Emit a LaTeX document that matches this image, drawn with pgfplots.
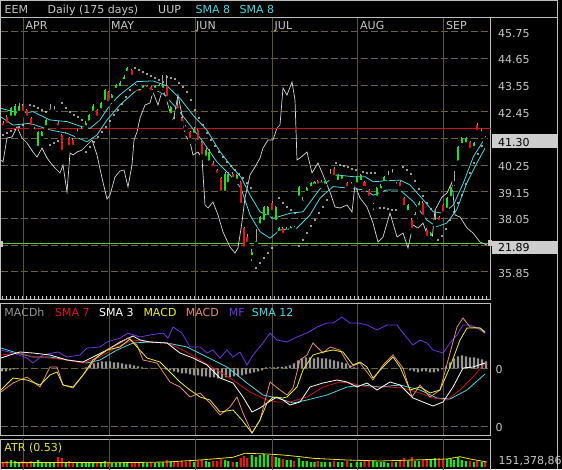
\documentclass[border=0pt]{standalone}
\usepackage{pgfplots}
\usepackage{pgfplotstable}
\pgfplotsset{compat=1.18}
\usepackage{fontspec}
\setmainfont{DejaVu Sans}
\definecolor{lbl}{RGB}{200,200,200}
\definecolor{frm}{RGB}{190,190,190}
\definecolor{gridc}{RGB}{105,100,62}
\definecolor{vgrid}{RGB}{88,86,58}
\definecolor{cyn}{RGB}{80,215,225}
\definecolor{upc}{RGB}{30,225,30}
\definecolor{dnc}{RGB}{225,25,25}
\definecolor{wick}{RGB}{165,165,165}
\definecolor{uup}{RGB}{215,215,215}
\definecolor{redl}{RGB}{200,20,20}
\definecolor{grnl}{RGB}{80,200,60}
\definecolor{mfc}{RGB}{110,55,225}
\definecolor{ylw}{RGB}{235,235,70}
\definecolor{salm}{RGB}{230,140,125}
\definecolor{hist}{RGB}{150,150,150}
\definecolor{atrc}{RGB}{230,230,50}
\definecolor{boxc}{RGB}{205,205,205}
\newcommand{\fs}{\fontsize{11}{13}\selectfont}

% up candles: x open high low close volume
\pgfplotstableread{
x o h l c v
11 42.20 42.65 42.15 42.60 7
15 42.20 42.75 42.10 42.70 6
19 42.40 42.80 42.35 42.70 5
34.3 41.65 41.80 41.50 41.70 4
38.3 40.95 41.65 40.90 41.60 7
41.7 41.36 41.65 41.30 41.60 5
46 41.80 42.15 41.75 42.10 5
50 42.45 42.75 42.30 42.55 4
54 42.45 42.70 42.35 42.50 4
65.7 41.45 41.60 41.35 41.50 4
77.3 41.55 41.75 41.45 41.60 4
81.7 41.65 41.80 41.55 41.70 4
85.7 41.80 42.05 41.75 42.00 5
89.3 42.00 42.35 41.95 42.30 5
93.3 42.40 42.75 42.35 42.70 4
101 42.50 42.85 42.45 42.80 5
105 42.85 43.40 42.80 43.35 6
111.7 42.93 43.20 42.90 43.14 4
116 43.35 43.60 43.30 43.55 4
120 43.42 43.70 43.38 43.63 5
124 43.70 43.95 43.65 43.90 5
127.3 44.05 44.30 44.00 44.25 4
143.3 43.35 43.55 43.30 43.50 4
147.3 43.40 43.55 43.35 43.50 4
155 43.35 43.55 43.30 43.50 4
159.3 43.42 43.60 43.38 43.55 4
162.7 43.35 43.95 43.30 43.55 5
170.7 42.30 42.70 42.20 42.65 6
194 41.50 41.80 41.45 41.75 5
206 40.55 40.95 40.50 40.87 6
209.3 40.35 40.90 40.30 40.80 5
225 39.10 39.95 39.05 39.90 7
228.3 39.46 39.95 39.40 39.87 6
236.7 39.60 39.90 39.55 39.85 5
251.7 36.45 36.80 36.20 36.65 12
256 37.00 37.60 36.95 37.10 10
260 37.75 38.15 37.70 38.10 12
264 37.90 38.55 37.85 38.50 13
267.7 38.10 38.55 38.05 38.50 12
275.7 37.90 38.55 37.85 38.50 10
279.3 37.45 37.70 37.40 37.65 9
286.7 37.50 37.70 37.40 37.55 7
290.7 37.55 37.75 37.50 37.70 7
299 38.90 39.40 38.85 39.35 9
302.7 38.70 38.95 38.60 38.80 6
306.7 39.10 39.35 39.05 39.30 6
311 39.30 39.55 39.25 39.50 5
314.5 39.40 39.60 39.35 39.55 5
321.5 39.45 39.65 39.40 39.55 5
325 39.40 39.65 39.35 39.60 5
330 39.80 40.10 39.70 39.85 5
338.3 39.55 39.90 39.50 39.85 5
342.3 39.60 39.85 39.55 39.80 5
351 39.40 39.55 39.30 39.45 4
356.7 39.45 39.80 39.40 39.75 5
360.7 39.55 39.90 39.50 39.85 5
373.3 38.55 38.70 38.30 38.60 6
376.7 38.90 39.35 38.85 39.30 5
380.7 39.20 39.45 39.15 39.40 5
384.3 39.50 39.80 39.45 39.75 5
388.3 39.75 40.00 39.70 39.80 4
396 39.40 39.55 39.35 39.45 5
408.3 38.30 38.65 38.25 38.60 6
415 38.10 38.30 38.05 38.25 6
419 38.50 38.75 38.45 38.70 6
430.7 37.24 37.50 37.20 37.45 7
435 37.90 38.40 37.80 38.00 9
447.3 38.40 38.95 38.35 38.90 8
450.7 38.88 39.40 38.85 39.33 8
454 39.50 40.00 39.30 39.55 7
458.3 40.35 41.05 40.30 41.00 10
461.7 41.07 41.40 41.00 41.36 7
466 41.10 41.40 41.05 41.36 6
474 40.95 41.20 40.90 41.15 5
481.7 41.55 41.75 41.45 41.60 5
}\upC

% down candles
\pgfplotstableread{
x o h l c v
3.3 41.98 42.05 41.72 41.80 5
6.7 42.23 42.30 41.85 41.90 6
22.7 42.70 42.75 42.30 42.40 6
26.7 42.50 42.55 42.15 42.20 5
31 42.20 42.25 41.75 41.80 6
58.3 42.00 42.05 41.75 41.80 10
61.7 41.48 41.55 40.75 40.79 9
69 41.36 41.40 40.95 40.99 6
72.7 41.30 41.35 40.95 41.00 5
97.3 42.50 42.55 42.15 42.20 5
108.3 43.26 43.30 42.75 42.80 5
131.7 44.17 44.20 43.85 43.88 5
135 43.50 43.60 43.40 43.45 4
139 43.35 43.40 43.20 43.22 5
151 43.45 43.50 43.20 43.25 5
166.7 43.50 43.95 42.95 43.00 7
174 42.10 42.30 41.95 42.05 5
177.7 42.70 43.00 42.45 42.50 5
181.7 42.20 42.25 41.90 41.98 6
185.7 41.80 41.90 41.55 41.75 5
190 41.60 41.65 41.20 41.28 6
197.7 41.70 41.75 41.15 41.20 6
201.7 41.20 41.25 40.55 40.60 7
213.3 40.33 40.40 40.05 40.12 6
217.3 40.05 40.10 39.80 39.85 6
221 39.70 39.75 39.05 39.10 8
232.7 39.87 39.95 39.60 39.66 5
240.7 39.55 39.60 38.55 38.60 9
244 37.65 37.70 36.75 36.80 11
247.3 37.30 37.40 36.90 37.00 9
272.3 38.70 38.75 38.25 38.30 11
282.7 37.65 37.70 37.30 37.36 8
294 37.70 37.75 37.55 37.60 6
317.7 39.60 39.65 39.35 39.40 6
334 40.10 40.15 39.70 39.75 6
347.3 39.50 39.55 39.25 39.30 6
364.5 39.55 39.60 39.25 39.30 6
369 39.20 39.25 38.85 38.90 7
392.3 39.90 40.10 39.80 39.85 5
400 39.55 39.60 39.25 39.30 6
404 38.90 38.95 38.45 38.50 9
411.7 37.98 38.05 37.50 37.57 10
422.7 38.70 38.75 38.05 38.10 7
426.7 37.57 37.65 37.20 37.24 8
439 38.10 38.15 37.85 37.90 9
443.3 38.60 38.65 38.20 38.25 7
470 41.20 41.25 40.85 40.87 6
477.3 41.90 42.00 41.55 41.60 6
485 41.40 41.45 41.25 41.30 5
}\dnC

\begin{document}
\begin{tikzpicture}[x=1pt,y=1pt]
\fill[black] (0,0) rectangle (562,469);
\useasboundingbox (0,0) rectangle (562,469);

% ---------- main panel: overlay in screen units (grid, UUP, SAR)
\begin{axis}[at={(0.7pt,170pt)},anchor=south west,scale only axis,
  width=489.8pt,height=281.5pt,xmin=0.7,xmax=490.5,ymin=17.5,ymax=299,
  y dir=reverse,hide axis,clip=true]
\pgfplotsinvokeforeach{31.7,58.3,85,111.7,138.3,165,191.7,218.3,245,271.7}{
  \draw[gridc,dash pattern=on 7pt off 3pt,line width=0.6pt] (axis cs:0.7,#1) -- (axis cs:490.5,#1);}
\pgfplotsinvokeforeach{23.3,109,195,272.7,357.3,443.3}{
  \draw[vgrid,line width=0.7pt] (axis cs:#1,17.5) -- (axis cs:#1,299);}
\addplot[grnl,line width=1pt] coordinates {(0.7,243.3) (490.5,243.3)};
\addplot[uup,line width=0.7pt] coordinates {
(1,160)(3,162)(7,138)(12,137)(17,127)(22,138)(27,143)(33,152)(37,157)(42,148)(47,158)(50,162)(55,168)(60,173)(63,165)(67,192)(70,153)(73,155)(77,152)(82,150)(87,145)(92,140)(97,155)(102,178)(107,199)(110,195)(115,177)(120,171)(124,170)(128,187)(132,165)(134,140)(137,132)(140,118)(145,105)(150,103)(153,92)(158,105)(163,88)(168,105)(173,122)(178,95)(182,115)(185,135)(190,142)(193,155)(198,152)(202,158)(205,205)(208,208)(213,202)(218,215)(223,232)(230,247)(235,253)(238,248)(242,222)(245,198)(250,175)(255,167)(260,158)(263,148)(268,140)(273,140)(277,128)(280,125)(283,88)(287,95)(292,82)(295,100)(297,160)(300,158)(307,152)(312,173)(318,163)(323,175)(330,192)(335,207)(340,208)(347,205)(352,212)(355,185)(360,198)(367,207)(373,223)(378,242)(383,237)(390,213)(397,237)(403,233)(408,248)(413,225)(418,228)(423,223)(428,237)(432,240)(435,210)(442,197)(447,193)(452,182)(455,215)(460,217)(467,228)(473,233)(480,242)(487,245)};
\addplot[only marks,mark=*,mark size=0.55pt,white] coordinates {
(3,135)(7,133)(11,131)(15,129)(19,127)(23,125)
(30,105)(34,106)(38,108)(42,110)(46,112)
(50,145)(54,143)(58,141)
(62,103)(66,108)(70,112)(74,115)(78,117)(82,120)
(86,152)(90,147)(94,142)(98,137)(102,132)(106,127)(110,121)(114,115)(118,110)(122,104)(126,97)(130,90)
(135,68)(139,70)(143,72)(147,74)(151,76)(155,78)(159,80)(163,82)
(167,77)(171,78)(175,79)(179,83)(183,87)(187,92)(191,100)(195,110)(199,118)(203,125)(207,133)(211,140)(215,146)(219,152)(223,157)(227,162)(231,166)(235,170)(239,174)(243,178)(247,183)(251,188)
(256,268)(260,263)(264,258)(268,253)(272,248)
(279,198)(283,203)(287,207)(291,210)(295,213)
(299,246)(303,240)(307,233)(311,226)(315,220)(319,213)(323,207)(327,200)
(336,163)(340,165)(344,166)(348,167)(352,169)(356,170)(363,172)(367,173)(371,173)(375,173)
(380,208)(384,208)(388,209)(392,210)(396,210)
(403,167)(407,170)(411,174)(415,181)(419,189)(423,196)(427,203)(431,209)
(438,240)(442,236)(446,229)(450,220)(454,212)(458,203)(462,195)(466,184)(470,173)(474,163)(478,154)(482,146)};
\end{axis}

% ---------- main panel: price axis (candles)
\begin{axis}[at={(0.7pt,170pt)},anchor=south west,scale only axis,
  width=489.8pt,height=281.5pt,xmin=0.7,xmax=490.5,ymin=34.723,ymax=46.336,
  axis line style={draw=frm,line width=0.8pt},
  ytick=\empty,xtick={2,6,...,490},xticklabels={},xtick pos=lower,
  tick align=inside,major tick length=3pt,tick style={draw=lbl,line width=0.5pt},
  clip=true]
\addplot[redl,line width=1pt] coordinates {(0.7,41.77) (490.5,41.77)};
\addplot[cyn,line width=0.8pt] coordinates {
(0.7,42.59)(20,42.38)(33,42.45)(50,42.11)(67,42.04)(82,41.83)(90,41.76)(100,42.11)(110,42.73)(120,43.15)(136.7,43.69)(153,43.72)(166.7,43.52)(180,43.0)(193,42.31)(206.7,41.7)(220,40.8)(233,40.11)(241,39.75)(250,39.01)(260,38.32)(273.3,38.05)(290,38.26)(303,38.32)(313,38.88)(323,39.43)(336.7,39.84)(353,39.77)(365,39.77)(373.3,39.56)(386.7,39.6)(400,39.63)(410,39.43)(423.3,38.81)(433.3,38.32)(443.3,38.26)(453.3,38.6)(463.3,39.5)(473.3,40.59)(485,41.35)};
\addplot[cyn,line width=0.8pt] coordinates {
(0.7,42.24)(13,41.9)(30,41.97)(50,41.7)(67,41.56)(87,41.21)(97,41.49)(107,42.11)(120,42.73)(136.7,43.34)(150,43.41)(163,43.21)(176.7,42.59)(190,41.9)(203,41.21)(216.7,40.39)(230,39.84)(241,39.3)(250,38.19)(260,37.5)(270,37.23)(280,37.57)(296.7,37.64)(310,38.19)(320,38.88)(333,39.36)(350,39.29)(365,39.22)(373.3,39.01)(386.7,39.22)(400,39.22)(413.3,38.74)(426.7,37.98)(436.7,37.71)(446.7,37.85)(456.7,38.4)(466.7,39.5)(476.7,40.32)(485,40.94)};
% wicks
\addplot[only marks,mark=none,error bars/.cd,y dir=plus,y explicit,error mark=none,
  error bar style={draw=wick,solid,line width=0.7pt}]
  table[x=x,y=l,y error expr=\thisrow{h}-\thisrow{l}] {\upC};
\addplot[only marks,mark=none,error bars/.cd,y dir=plus,y explicit,error mark=none,
  error bar style={draw=wick,solid,line width=0.7pt}]
  table[x=x,y=l,y error expr=\thisrow{h}-\thisrow{l}] {\dnC};
% bodies
\addplot[only marks,mark=none,error bars/.cd,y dir=plus,y explicit,error mark=none,
  error bar style={draw=upc,solid,line width=2.2pt}]
  table[x=x,y=o,y error expr=\thisrow{c}-\thisrow{o}] {\upC};
\addplot[only marks,mark=none,error bars/.cd,y dir=plus,y explicit,error mark=none,
  error bar style={draw=dnc,solid,line width=2.2pt}]
  table[x=x,y=c,y error expr=\thisrow{o}-\thisrow{c}] {\dnC};
\end{axis}

% ---------- MACD panel: histogram + grid
\begin{axis}[at={(0.7pt,34pt)},anchor=south west,scale only axis,
  width=489.8pt,height=131.7pt,xmin=0.7,xmax=490.5,ymin=-66.7,ymax=65,
  hide axis,clip=true]
\draw[gridc,dash pattern=on 7pt off 3pt,line width=0.6pt] (axis cs:0.7,0) -- (axis cs:490.5,0);
\draw[gridc,dash pattern=on 7pt off 3pt,line width=0.6pt] (axis cs:0.7,-58.4) -- (axis cs:490.5,-58.4);
\pgfplotsinvokeforeach{23.3,109,195,272.7,357.3,443.3}{
  \draw[vgrid,line width=0.7pt] (axis cs:#1,-66.7) -- (axis cs:#1,65);}
\addplot[ybar,bar width=2.2pt,bar shift=0pt,fill=hist,draw=none] coordinates {
(2,-3)(6,-3)(10,-2)(14,-1)(18,-0.5)(86,1)(90,3)(94,5)(98,6)(102,7)(106,7)(110,7)(114,6)(118,6)(122,5)(126,4)(130,4)(134,3)(138,2)(142,1)(146,0.5)(150,0.5)(166,-1)(170,-2)(174,-3)(178,-4)(182,-5)(186,-5)(190,-6)(194,-7)(198,-7)(202,-8)(206,-8)(210,-9)(214,-9)(218,-10)(222,-10)(226,-9)(230,-9)(234,-8)(238,-8)(242,-7)(246,-6)(250,-5)(254,-4)(258,-3)(262,-2)(266,1)(270,1)(274,1)(278,1.5)(282,1.5)(286,2)(290,3)(294,5)(298,8)(302,10)(306,11)(310,11)(314,10)(318,11)(322,10)(326,10)(330,9)(334,8)(338,7)(342,6)(346,5)(350,3)(354,1)(358,0.5)(410,-2)(414,-3)(418,-4)(422,-3)(426,-3)(430,-4)(434,-4)(438,-3)(442,-1)(446,2)(450,6)(454,10)(458,12)(462,13)(466,12)(470,11)(474,11)(478,10)(482,9)(486,7)};
\end{axis}

% ---------- MACD panel: lines
\begin{axis}[at={(0.7pt,34pt)},anchor=south west,scale only axis,
  width=489.8pt,height=131.7pt,xmin=0.7,xmax=490.5,ymin=303.3,ymax=435,y dir=reverse,
  axis line style={draw=frm,line width=0.8pt},ticks=none,clip=true]
\addplot[mfc,line width=0.8pt] coordinates {
(1,350)(13,353)(27,358)(33,363)(43,355)(53,353)(58,352)(67,357)(80,355)(87,348)(100,347)(107,342)(120,338)(128,333)(140,337)(150,335)(163,333)(168,338)(173,327)(182,333)(190,347)(200,347)(207,353)(213,350)(220,358)(227,350)(233,357)(240,352)(247,365)(253,355)(263,343)(270,333)(277,340)(287,342)(297,337)(307,333)(317,327)(327,323)(333,323)(342,317)(350,323)(358,323)(367,325)(377,330)(387,325)(397,325)(403,333)(413,345)(420,340)(427,343)(433,350)(443,353)(450,343)(457,335)(463,325)(470,325)(477,328)(485,333)};
\addplot[cyn,line width=0.8pt] coordinates {
(1,348)(17,353)(33,357)(50,357)(67,360)(87,363)(100,360)(117,350)(133,343)(150,342)(167,343)(187,347)(207,357)(227,367)(247,383)(263,395)(277,398)(293,403)(307,400)(327,395)(347,387)(363,385)(380,387)(400,385)(420,390)(437,398)(450,399)(467,390)(485,374)};
\addplot[dnc!90!black,line width=0.8pt] coordinates {
(1,355)(20,353)(33,357)(50,358)(67,360)(83,363)(100,357)(117,347)(133,340)(150,342)(167,343)(183,350)(200,360)(217,370)(233,380)(250,392)(267,400)(277,402)(290,402)(307,397)(323,387)(340,382)(350,383)(367,387)(387,387)(403,388)(420,393)(433,398)(447,400)(460,390)(473,377)(485,363)};
\addplot[white,line width=0.8pt] coordinates {
(1,358)(10,355)(20,352)(33,353)(50,355)(67,360)(83,362)(93,357)(107,350)(120,342)(133,336)(140,340)(150,342)(167,343)(180,353)(193,358)(207,365)(220,378)(233,383)(243,397)(252,412)(260,408)(267,403)(277,397)(283,400)(290,405)(300,402)(310,387)(323,383)(337,380)(347,382)(357,387)(367,383)(377,390)(390,382)(400,385)(413,398)(423,402)(433,406)(443,402)(453,387)(463,368)(473,367)(485,363)};
\addplot[salm,line width=0.8pt] coordinates {
(1,392)(13,383)(27,377)(40,387)(50,367)(57,367)(63,385)(73,388)(87,370)(97,357)(107,350)(120,343)(128,338)(137,345)(143,360)(157,363)(170,382)(180,387)(190,397)(200,393)(210,403)(220,415)(230,407)(237,397)(243,413)(252,433)(260,420)(270,382)(280,390)(287,395)(293,388)(300,360)(307,355)(313,343)(323,353)(330,347)(340,350)(350,367)(360,363)(373,380)(383,365)(393,355)(403,368)(412,397)(420,385)(430,397)(440,390)(450,353)(457,327)(463,318)(470,327)(480,328)(485,333)};
\addplot[ylw,line width=0.8pt] coordinates {
(1,390)(13,378)(27,380)(40,385)(50,375)(57,372)(63,385)(73,387)(83,375)(93,360)(107,350)(120,347)(130,339)(137,347)(147,358)(160,362)(170,372)(180,382)(190,390)(200,397)(210,400)(220,412)(233,410)(242,420)(252,433)(260,420)(267,403)(273,397)(283,398)(287,397)(297,387)(303,370)(313,355)(323,352)(333,350)(343,352)(353,365)(360,362)(367,367)(373,378)(383,367)(393,357)(400,367)(410,390)(420,387)(430,393)(440,390)(450,367)(460,340)(467,328)(473,328)(480,328)(485,332)};
\end{axis}

% ---------- ATR / volume panel
\begin{axis}[at={(0.7pt,-1pt)},anchor=south west,scale only axis,
  width=489.8pt,height=30.7pt,xmin=0.7,xmax=490.5,ymin=-3,ymax=27.7,
  axis line style={draw=frm,line width=0.8pt},ticks=none,clip=true]
\pgfplotsinvokeforeach{23.3,109,195,272.7,357.3,443.3}{
  \draw[vgrid,line width=0.7pt] (axis cs:#1,-3) -- (axis cs:#1,27.7);}
\addplot[ybar,bar width=2.2pt,bar shift=0pt,fill=upc,draw=none] table[x=x,y=v] {\upC};
\addplot[ybar,bar width=2.2pt,bar shift=0pt,fill=dnc,draw=none] table[x=x,y=v] {\dnC};
\addplot[atrc,line width=0.8pt] coordinates {
(1,4.3)(60,4.5)(120,4.3)(167,5)(200,7)(233,9.7)(245,13.7)(267,13)(283,12)(300,10.3)(313,8.7)(347,7)(380,6)(413,7)(447,8)(460,10.3)(470,8)(487,5)};
\end{axis}

% ---------- frames
\draw[frm,line width=0.8pt] (0.7,468.3) rectangle (557.5,451.5);
\draw[frm,line width=0.8pt] (557.5,451.5) -- (557.5,0);

% ---------- texts
\begin{scope}[every node/.style={inner sep=0pt,font=\fs,anchor=base west}]
\node[text=lbl] at (4.5,455.7) {EEM};
\node[text=lbl] at (47.5,455.7) {Daily (175 days)};
\node[text=lbl] at (158,455.7) {UUP};
\node[text=cyn] at (195.5,455.7) {SMA 8};
\node[text=cyn] at (239.5,455.7) {SMA 8};
\node[text=lbl] at (25.5,439) {APR};
\node[text=lbl] at (111,439) {MAY};
\node[text=lbl] at (196,439) {JUN};
\node[text=lbl] at (274.5,439) {JUL};
\node[text=lbl] at (360,439) {AUG};
\node[text=lbl] at (446,439) {SEP};
\node[text=lbl] at (498,431.7) {45.75};
\node[text=lbl] at (498,405.1) {44.65};
\node[text=lbl] at (498,378.4) {43.55};
\node[text=lbl] at (498,351.7) {42.45};
\node[text=lbl] at (498,298.4) {40.25};
\node[text=lbl] at (498,271.7) {39.15};
\node[text=lbl] at (498,245.1) {38.05};
\node[text=lbl] at (498,191.7) {35.85};
\end{scope}
\fill[boxc] (492,320.5) rectangle (557.5,334.5);
\fill[boxc] (492,215.2) rectangle (557.5,228.2);
\fill[lbl] (0,222) rectangle (3,228);
\fill[lbl] (487.5,223) rectangle (492,229);
\begin{scope}[every node/.style={inner sep=0pt,font=\fs,anchor=base west}]
\node[text=black] at (498,322.6) {41.30};
\node[text=black] at (498,217.2) {21.89};
\node[text=hist] at (4.3,153) {MACDh};
\node[text=dnc] at (55,153) {SMA 7};
\node[text=white] at (99,153) {SMA 3};
\node[text=ylw] at (143.3,153) {MACD};
\node[text=salm] at (185.7,153) {MACD};
\node[text=mfc] at (228.7,153) {MF};
\node[text=cyn] at (251.7,153) {SMA 12};
\node[text=lbl] at (495.5,95.7) {0};
\node[text=lbl] at (495.5,37.3) {0};
\node[text=atrc] at (4.3,18) {ATR (0.53)};
\node[text=lbl] at (498.5,4.7) {151,378,86};
\end{scope}
\end{tikzpicture}
\end{document}
